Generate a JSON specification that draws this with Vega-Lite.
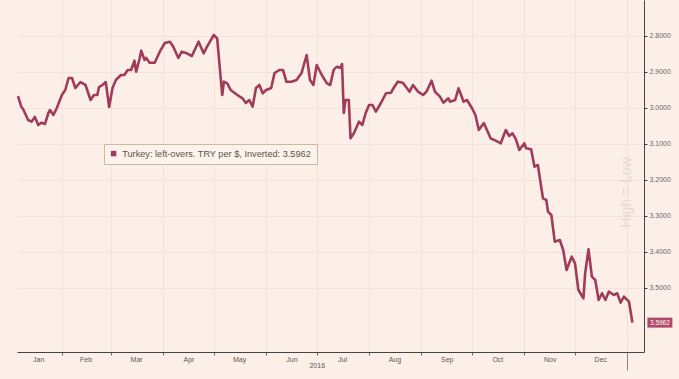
{
  "$schema": "https://vega.github.io/schema/vega-lite/v6.json",
  "width": 627,
  "height": 352,
  "autosize": {"type": "none"},
  "padding": {"left": 17, "top": 0, "right": 35, "bottom": 27},
  "background": "#fcefe8",
  "config": {"view": {"stroke": null}, "font": "Liberation Sans"},
  "data": {"values": [
    {"d": "2016-01-06", "v": 2.9667}, {"d": "2016-01-08", "v": 2.9972}, {"d": "2016-01-09", "v": 3.0028},
    {"d": "2016-01-12", "v": 3.0333}, {"d": "2016-01-14", "v": 3.038}, {"d": "2016-01-16", "v": 3.025},
    {"d": "2016-01-18", "v": 3.0472}, {"d": "2016-01-20", "v": 3.0408}, {"d": "2016-01-22", "v": 3.0444},
    {"d": "2016-01-24", "v": 3.0139}, {"d": "2016-01-25", "v": 3.0056}, {"d": "2016-01-27", "v": 3.0194},
    {"d": "2016-01-29", "v": 3.0}, {"d": "2016-02-01", "v": 2.9639}, {"d": "2016-02-03", "v": 2.95},
    {"d": "2016-02-05", "v": 2.9167}, {"d": "2016-02-07", "v": 2.9167}, {"d": "2016-02-09", "v": 2.9444},
    {"d": "2016-02-12", "v": 2.9278}, {"d": "2016-02-15", "v": 2.9361}, {"d": "2016-02-18", "v": 2.9778},
    {"d": "2016-02-20", "v": 2.9639}, {"d": "2016-02-22", "v": 2.9639}, {"d": "2016-02-23", "v": 2.9417},
    {"d": "2016-02-25", "v": 2.9361}, {"d": "2016-02-27", "v": 2.9278}, {"d": "2016-02-29", "v": 2.9972},
    {"d": "2016-03-02", "v": 2.9444}, {"d": "2016-03-04", "v": 2.9222}, {"d": "2016-03-07", "v": 2.9083},
    {"d": "2016-03-09", "v": 2.9083}, {"d": "2016-03-11", "v": 2.8944}, {"d": "2016-03-13", "v": 2.8944},
    {"d": "2016-03-15", "v": 2.8686}, {"d": "2016-03-16", "v": 2.8992}, {"d": "2016-03-18", "v": 2.8639},
    {"d": "2016-03-19", "v": 2.8408}, {"d": "2016-03-21", "v": 2.8667}, {"d": "2016-03-22", "v": 2.8611},
    {"d": "2016-03-24", "v": 2.8742}, {"d": "2016-03-27", "v": 2.8742}, {"d": "2016-03-30", "v": 2.8436},
    {"d": "2016-04-02", "v": 2.8194}, {"d": "2016-04-05", "v": 2.8158}, {"d": "2016-04-07", "v": 2.8297},
    {"d": "2016-04-10", "v": 2.8611}, {"d": "2016-04-12", "v": 2.8436}, {"d": "2016-04-15", "v": 2.8481},
    {"d": "2016-04-18", "v": 2.8556}, {"d": "2016-04-22", "v": 2.8158}, {"d": "2016-04-25", "v": 2.8481},
    {"d": "2016-04-27", "v": 2.8297}, {"d": "2016-05-01", "v": 2.7972}, {"d": "2016-05-03", "v": 2.8064},
    {"d": "2016-05-06", "v": 2.9639}, {"d": "2016-05-07", "v": 2.9269}, {"d": "2016-05-09", "v": 2.9314},
    {"d": "2016-05-11", "v": 2.95}, {"d": "2016-05-15", "v": 2.9639}, {"d": "2016-05-18", "v": 2.9731},
    {"d": "2016-05-20", "v": 2.9861}, {"d": "2016-05-22", "v": 2.9778}, {"d": "2016-05-24", "v": 2.9964},
    {"d": "2016-05-26", "v": 2.9444}, {"d": "2016-05-28", "v": 2.9361}, {"d": "2016-05-30", "v": 2.9592},
    {"d": "2016-06-01", "v": 2.95}, {"d": "2016-06-04", "v": 2.9444}, {"d": "2016-06-06", "v": 2.9028},
    {"d": "2016-06-09", "v": 2.8944}, {"d": "2016-06-11", "v": 2.8944}, {"d": "2016-06-13", "v": 2.9269},
    {"d": "2016-06-16", "v": 2.9269}, {"d": "2016-06-19", "v": 2.9222}, {"d": "2016-06-22", "v": 2.9028},
    {"d": "2016-06-25", "v": 2.8528}, {"d": "2016-06-27", "v": 2.9222}, {"d": "2016-06-29", "v": 2.9361},
    {"d": "2016-07-01", "v": 2.8806}, {"d": "2016-07-04", "v": 2.9083}, {"d": "2016-07-07", "v": 2.9314},
    {"d": "2016-07-09", "v": 2.9361}, {"d": "2016-07-11", "v": 2.8944}, {"d": "2016-07-12", "v": 2.8889},
    {"d": "2016-07-13", "v": 2.8853}, {"d": "2016-07-15", "v": 2.8889}, {"d": "2016-07-16", "v": 2.8778},
    {"d": "2016-07-17", "v": 3.0139}, {"d": "2016-07-18", "v": 2.9778}, {"d": "2016-07-20", "v": 2.9778},
    {"d": "2016-07-21", "v": 3.0842}, {"d": "2016-07-23", "v": 3.0703}, {"d": "2016-07-26", "v": 3.0381},
    {"d": "2016-07-28", "v": 3.0472}, {"d": "2016-07-30", "v": 3.0139}, {"d": "2016-08-01", "v": 2.9917},
    {"d": "2016-08-03", "v": 2.9917}, {"d": "2016-08-05", "v": 3.0103}, {"d": "2016-08-08", "v": 2.9861},
    {"d": "2016-08-11", "v": 2.9592}, {"d": "2016-08-14", "v": 2.9575}, {"d": "2016-08-16", "v": 2.9408},
    {"d": "2016-08-18", "v": 2.9269}, {"d": "2016-08-21", "v": 2.9297}, {"d": "2016-08-25", "v": 2.9547},
    {"d": "2016-08-27", "v": 2.9361}, {"d": "2016-08-30", "v": 2.9547}, {"d": "2016-09-02", "v": 2.9639},
    {"d": "2016-09-04", "v": 2.9547}, {"d": "2016-09-07", "v": 2.9242}, {"d": "2016-09-09", "v": 2.9547},
    {"d": "2016-09-12", "v": 2.9686}, {"d": "2016-09-14", "v": 2.9853}, {"d": "2016-09-17", "v": 2.9731},
    {"d": "2016-09-18", "v": 2.9825}, {"d": "2016-09-21", "v": 2.9778}, {"d": "2016-09-23", "v": 2.9453},
    {"d": "2016-09-26", "v": 2.9825}, {"d": "2016-09-28", "v": 2.9778}, {"d": "2016-10-01", "v": 3.0008},
    {"d": "2016-10-03", "v": 3.0194}, {"d": "2016-10-05", "v": 3.0611}, {"d": "2016-10-08", "v": 3.0417},
    {"d": "2016-10-12", "v": 3.0842}, {"d": "2016-10-15", "v": 3.0908}, {"d": "2016-10-18", "v": 3.0981},
    {"d": "2016-10-21", "v": 3.0611}, {"d": "2016-10-23", "v": 3.0778}, {"d": "2016-10-25", "v": 3.0703},
    {"d": "2016-10-27", "v": 3.0869}, {"d": "2016-10-29", "v": 3.1167}, {"d": "2016-11-01", "v": 3.0981},
    {"d": "2016-11-02", "v": 3.1119}, {"d": "2016-11-05", "v": 3.1147}, {"d": "2016-11-07", "v": 3.1631},
    {"d": "2016-11-09", "v": 3.1583}, {"d": "2016-11-12", "v": 3.2508}, {"d": "2016-11-14", "v": 3.2556},
    {"d": "2016-11-15", "v": 3.2881}, {"d": "2016-11-17", "v": 3.2972}, {"d": "2016-11-19", "v": 3.3714},
    {"d": "2016-11-22", "v": 3.3667}, {"d": "2016-11-24", "v": 3.3944}, {"d": "2016-11-26", "v": 3.45},
    {"d": "2016-11-29", "v": 3.4131}, {"d": "2016-12-01", "v": 3.4314}, {"d": "2016-12-03", "v": 3.5056},
    {"d": "2016-12-06", "v": 3.5286}, {"d": "2016-12-07", "v": 3.4592}, {"d": "2016-12-09", "v": 3.3925},
    {"d": "2016-12-11", "v": 3.4686}, {"d": "2016-12-13", "v": 3.4778}, {"d": "2016-12-15", "v": 3.5333},
    {"d": "2016-12-17", "v": 3.5147}, {"d": "2016-12-19", "v": 3.5333}, {"d": "2016-12-21", "v": 3.5103},
    {"d": "2016-12-24", "v": 3.5194}, {"d": "2016-12-26", "v": 3.5147}, {"d": "2016-12-28", "v": 3.5408},
    {"d": "2016-12-30", "v": 3.5242}, {"d": "2017-01-02", "v": 3.538}, {"d": "2017-01-04", "v": 3.5962}
  ]},
  "encoding": {
    "y": {
      "field": "v", "type": "quantitative",
      "scale": {"domain": [2.7, 3.6778], "reverse": true, "zero": false, "nice": false},
      "axis": {
        "orient": "right",
        "values": [2.8, 2.9, 3.0, 3.1, 3.2, 3.3, 3.4, 3.5],
        "format": ".4f",
        "labelFontSize": 7, "labelColor": "#6e6666", "labelPadding": 2,
        "tickSize": 3, "tickColor": "#444", "domainColor": "#444",
        "grid": true, "gridColor": "#f4e2da",
        "title": "High = Low", "titleAngle": 270, "titleX": -18, "titleY": 192,
        "titleAlign": "center", "titleBaseline": "middle",
        "titleColor": "#e8d6cf", "titleFontSize": 14, "titleFontWeight": "normal"
      }
    }
  },
  "layer": [
    {
      "mark": {"type": "line", "strokeWidth": 2.6, "strokeJoin": "round", "color": "#a03c5a"},
      "encoding": {
        "x": {
          "field": "d", "type": "temporal",
          "scale": {"type": "utc", "domain": [{"year": 2016, "month": 1, "date": 5, "hours": 10, "utc": true}, {"year": 2017, "month": 1, "date": 10, "hours": 21, "utc": true}]},
          "axis": {
            "orient": "bottom", "title": null, "labels": false,
            "values": [
              {"year": 2016, "month": 2, "date": 1, "utc": true}, {"year": 2016, "month": 3, "date": 1, "utc": true},
              {"year": 2016, "month": 4, "date": 1, "utc": true}, {"year": 2016, "month": 5, "date": 1, "utc": true},
              {"year": 2016, "month": 6, "date": 1, "utc": true}, {"year": 2016, "month": 7, "date": 1, "utc": true},
              {"year": 2016, "month": 8, "date": 1, "utc": true}, {"year": 2016, "month": 9, "date": 1, "utc": true},
              {"year": 2016, "month": 10, "date": 1, "utc": true}, {"year": 2016, "month": 11, "date": 1, "utc": true},
              {"year": 2016, "month": 12, "date": 1, "utc": true}, {"year": 2017, "month": 1, "date": 1, "utc": true}
            ],
            "tickSize": 3, "tickColor": "#666", "domainColor": "#444",
            "grid": true, "gridColor": "#f4e2da"
          }
        },
        "color": {
          "datum": "Turkey: left-overs. TRY per $, Inverted: 3.5962",
          "scale": {"range": ["#a03c5a"]},
          "legend": {
            "orient": "none", "legendX": 87, "legendY": 144, "title": null,
            "fillColor": "#fdf3ea", "strokeColor": "#cbb9a3", "padding": 5,
            "symbolType": "square", "symbolSize": 30, "symbolFillColor": "#a03c5a",
            "symbolStrokeColor": "#a03c5a", "symbolStrokeWidth": 0,
            "labelFontSize": 9.2, "labelColor": "#5e5250", "labelLimit": 400
          }
        }
      }
    },
    {
      "mark": {"type": "line", "strokeOpacity": 0},
      "encoding": {
        "x": {
          "field": "d", "type": "temporal",
          "scale": {"type": "utc"},
          "axis": {
            "orient": "bottom", "title": null, "ticks": false, "domain": false, "grid": false,
            "values": [
              {"year": 2016, "month": 1, "date": 18, "utc": true}, {"year": 2016, "month": 2, "date": 15, "utc": true},
              {"year": 2016, "month": 3, "date": 16, "utc": true}, {"year": 2016, "month": 4, "date": 16, "utc": true},
              {"year": 2016, "month": 5, "date": 16, "utc": true}, {"year": 2016, "month": 6, "date": 16, "utc": true},
              {"year": 2016, "month": 7, "date": 16, "utc": true}, {"year": 2016, "month": 8, "date": 16, "utc": true},
              {"year": 2016, "month": 9, "date": 16, "utc": true}, {"year": 2016, "month": 10, "date": 16, "utc": true},
              {"year": 2016, "month": 11, "date": 16, "utc": true}, {"year": 2016, "month": 12, "date": 16, "utc": true}
            ],
            "labelExpr": "utcFormat(datum.value, '%b')",
            "labelPadding": 3, "labelFontSize": 7, "labelColor": "#5e5656"
          }
        }
      }
    },
    {
      "mark": {"type": "line", "strokeOpacity": 0},
      "encoding": {
        "x": {
          "field": "d", "type": "temporal",
          "scale": {"type": "utc"},
          "axis": {
            "orient": "bottom", "title": null, "domain": false, "grid": false,
            "values": [{"year": 2016, "month": 7, "date": 1, "utc": true}, {"year": 2017, "month": 1, "date": 1, "utc": true}],
            "tickSize": 18,
            "tickColor": {"condition": {"test": "utcFormat(datum.value, '%Y') == '2017'", "value": "#888"}, "value": "transparent"},
            "labelExpr": "utcFormat(datum.value, '%Y') == '2016' ? '2016' : ''",
            "labelPadding": -9, "labelFontSize": 7, "labelColor": "#5e5656"
          }
        }
      }
    },
    {
      "transform": [{"filter": "datum.v == 3.5962"}],
      "mark": {"type": "point", "filled": true, "opacity": 1, "shape": "M1.5,-0.5H4V0.5H1.5Z", "size": 400, "color": "#b0486a"},
      "encoding": {
        "x": {"field": "d", "type": "temporal", "scale": {"type": "utc"}, "axis": null}
      }
    },
    {
      "transform": [{"filter": "datum.v == 3.5962"}],
      "mark": {"type": "text", "dx": 27.5, "align": "center", "baseline": "middle", "fontSize": 6.5, "color": "#ffffff"},
      "encoding": {
        "x": {"field": "d", "type": "temporal", "scale": {"type": "utc"}, "axis": null},
        "text": {"field": "v", "type": "quantitative", "format": ".4f"}
      }
    }
  ],
  "resolve": {"axis": {"x": "independent"}}
}
